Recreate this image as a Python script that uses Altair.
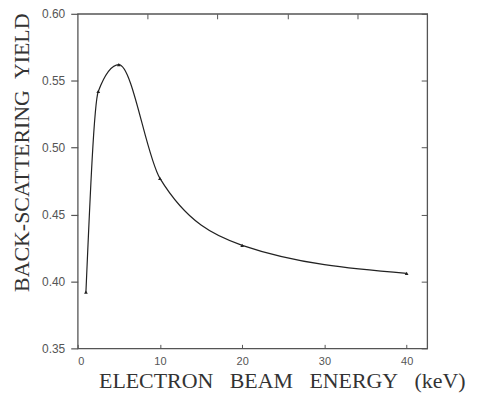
import altair as alt
import pandas as pd

energy = [1, 2.5, 5, 10, 20, 40]
yield_vals = [0.392, 0.542, 0.562, 0.477, 0.427, 0.406]
x_ticks = [0, 10, 20, 30, 40]
top_ticks = [8.5, 17, 25.5, 34]
y_ticks = [0.35, 0.40, 0.45, 0.50, 0.55, 0.60]

df = pd.DataFrame({"energy": energy, "yield": yield_vals})

xs = alt.Scale(domain=[0, 42.5], nice=False, zero=False)
ys = alt.Scale(domain=[0.35, 0.60], nice=False, zero=False)

title_font = "Liberation Serif"
lab_font = "Liberation Sans"
gray = "#555555"
sp = "\u00a0\u00a0\u00a0"
x_title = "ELECTRON" + sp + "BEAM" + sp + "ENERGY" + sp + "(keV)"
y_title = "BACK-SCATTERING" + "\u00a0\u00a0" + "YIELD"

line = alt.Chart(df).mark_line(
    interpolate="monotone", color="#222222", strokeWidth=1.2
).encode(
    x=alt.X("energy:Q", scale=xs, axis=alt.Axis(
        orient="bottom", values=x_ticks, format="d", title=x_title,
        domain=False, grid=False, offset=-4, tickSize=4, tickColor=gray,
        labelPadding=7, labelFont=lab_font, labelFontSize=11, labelColor=gray,
        titleFont=title_font, titleFontSize=22, titleFontWeight="normal", titleColor="#333333",
        titleX=205, titleY=43, titleAlign="center", titleBaseline="alphabetic")),
    y=alt.Y("yield:Q", scale=ys, axis=alt.Axis(
        orient="left", values=y_ticks, format=".2f", title=y_title,
        domain=False, grid=False, tickSize=7, tickColor=gray, tickWidth=1.2,
        labelPadding=6, labelFont=lab_font, labelFontSize=12, labelColor=gray,
        titleFont=title_font, titleFontSize=22, titleFontWeight="normal", titleColor="#333333",
        titleX=-56, titleY=139, titleAngle=270, titleAlign="center", titleBaseline="middle")),
)

pts = alt.Chart(df).mark_point(
    shape="triangle-up", filled=True, size=14, color="#222222", opacity=1
).encode(
    x=alt.X("energy:Q", scale=xs, axis=alt.Axis(
        orient="top", values=top_ticks, labels=False, title=None, domain=False, grid=False,
        offset=-5, tickSize=5, tickColor=gray)),
    y=alt.Y("yield:Q", scale=ys, axis=alt.Axis(
        orient="right", values=y_ticks, labels=False, title=None, domain=False, grid=False,
        offset=-6, tickSize=6, tickColor=gray)),
)

chart = alt.layer(line, pts).resolve_axis(x="independent", y="independent").properties(
    width=351, height=336,
    autosize=alt.AutoSizeParams(type="none"),
    padding={"left": 70, "top": 5, "right": 45, "bottom": 45},
).configure_view(stroke=gray, strokeWidth=1.3)

chart.save("out.html", embed_options={"renderer": "svg", "actions": False})
